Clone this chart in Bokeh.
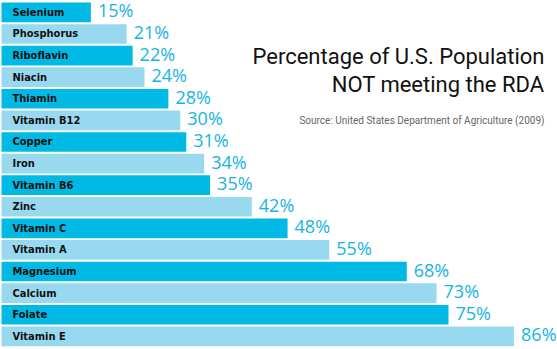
from bokeh.plotting import figure
from bokeh.models import Range1d, ColumnDataSource, Label
from bokeh.core.properties import value
from bokeh.embed import file_html
from bokeh.resources import INLINE

nutrients = ["Selenium", "Phosphorus", "Riboflavin", "Niacin", "Thiamin", "Vitamin B12",
             "Copper", "Iron", "Vitamin B6", "Zinc", "Vitamin C", "Vitamin A",
             "Magnesium", "Calcium", "Folate", "Vitamin E"]
percent_not_meeting = [15, 21, 22, 24, 28, 30, 31, 34, 35, 42, 48, 55, 68, 73, 75, 86]

DARK = "#00b9e4"
LIGHT = "#99d9f0"

n = len(nutrients)
idx = list(range(n))
src = ColumnDataSource(dict(
    y=idx,
    name=nutrients,
    val=percent_not_meeting,
    pct=[f"{v}%" for v in percent_not_meeting],
    color=[DARK if i % 2 == 0 else LIGHT for i in idx],
))

W, H = 557, 349
px_per_unit = 5.96
x0 = -1 / px_per_unit
p = figure(width=W, height=H, output_backend="svg", toolbar_location=None,
           x_range=Range1d(x0, x0 + W / px_per_unit),
           y_range=Range1d(n - 1 + 0.61, -0.55),
           min_border=0, min_border_left=0, min_border_right=0,
           min_border_top=0, min_border_bottom=0)
p.axis.visible = False
p.grid.visible = False
p.outline_line_color = None
p.background_fill_color = "white"
p.border_fill_color = "white"

p.hbar(y="y", left=0, right="val", height=0.91, color="color", line_color=None, source=src)

p.text(x=0, y="y", text="name", source=src, x_offset=11,
       text_font=value("DejaVu Sans Condensed"), text_font_style="bold",
       text_font_size="11px", text_color="#111111", text_baseline="middle")

p.text(x="val", y="y", text="pct", source=src, x_offset=7, y_offset=-2,
       text_font=value("Open Sans"), text_font_size="18px",
       text_color="#16b4e2", text_baseline="middle")

p.add_layout(Label(x=544, y=H - 68, x_units="screen", y_units="screen",
                   text="Percentage of U.S. Population", text_align="right",
                   text_font="Roboto", text_font_size="22px", text_color="#111111"))
p.add_layout(Label(x=544, y=H - 96, x_units="screen", y_units="screen",
                   text="NOT meeting the RDA", text_align="right",
                   text_font="Roboto", text_font_size="22px", text_color="#111111"))
p.add_layout(Label(x=544, y=H - 125, x_units="screen", y_units="screen",
                   text="Source: United States Department of Agriculture (2009)",
                   text_align="right",
                   text_font="Roboto", text_font_size="10px", text_color="#666666"))

open("out.html", "w").write(file_html(p, INLINE))
